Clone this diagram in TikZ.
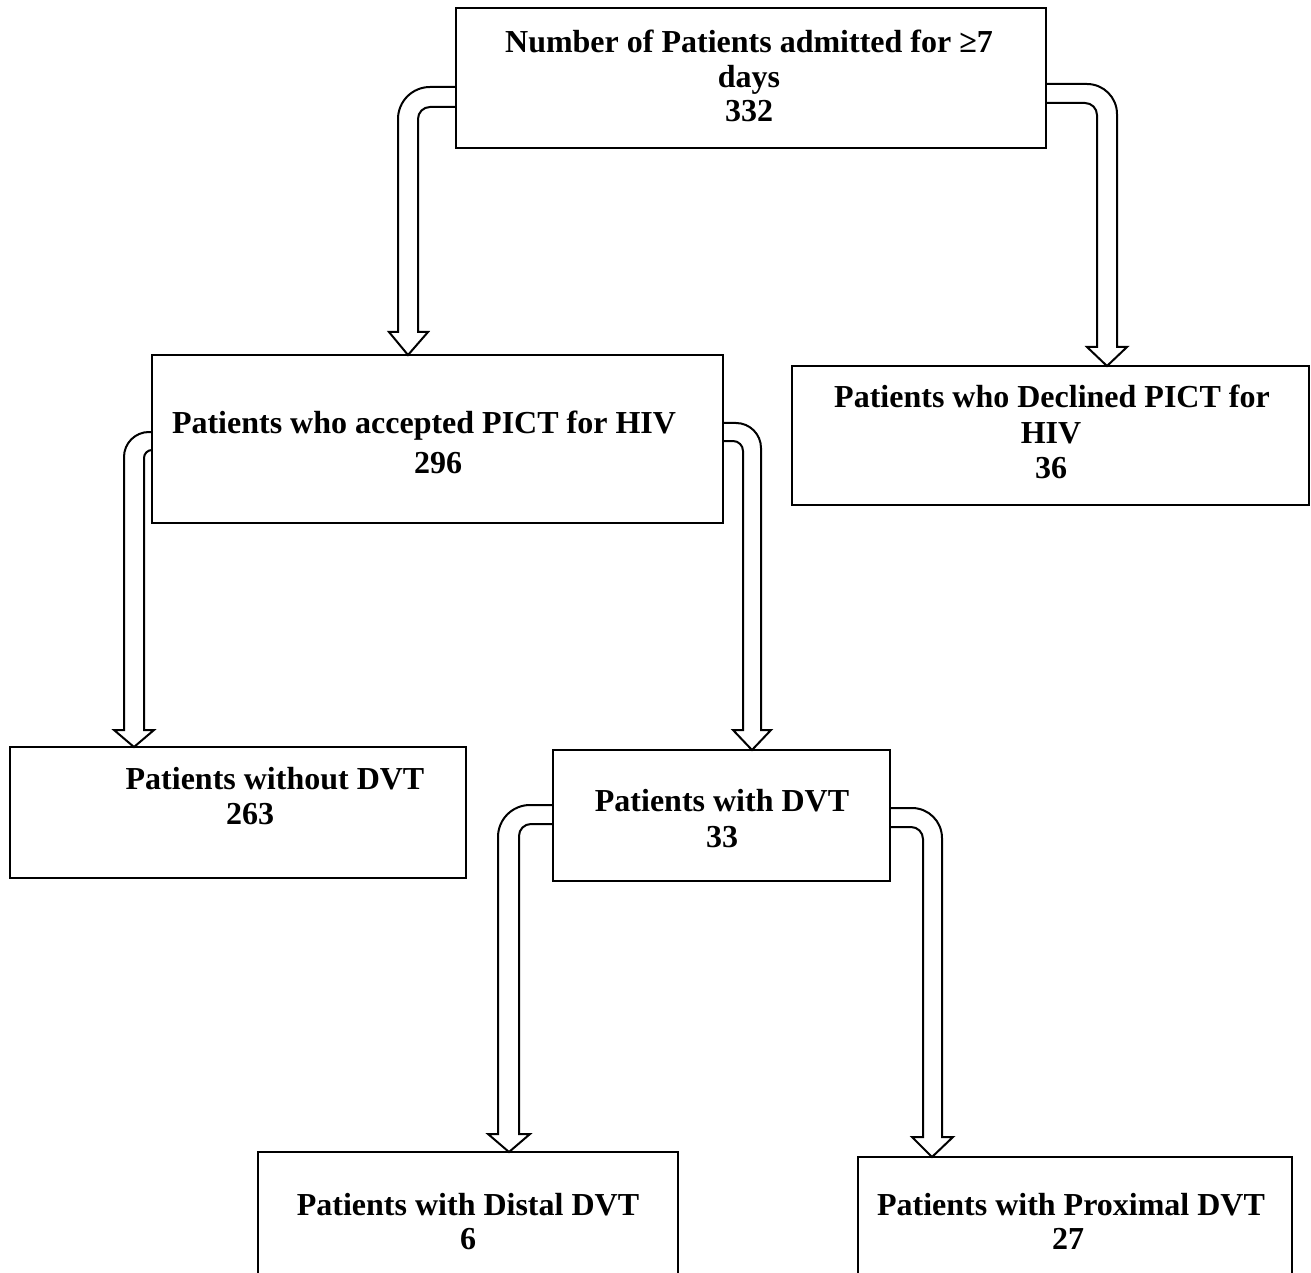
\documentclass[tikz,border=0pt]{standalone}
\usepackage{fontspec}
\setmainfont{Liberation Serif}
\usetikzlibrary{fit}
\begin{document}
\begin{tikzpicture}[x=0.75pt,y=0.75pt,
  box/.style={draw=black,line width=1.5pt,inner sep=0pt,outer sep=0pt},
  txt/.style={font=\fontsize{24}{26}\selectfont\bfseries,inner sep=0pt,anchor=base},
  harrow/.style={draw=black,line width=1.5pt,line join=miter}]
\useasboundingbox (0,0) rectangle (1311,-1273);
% boxes
\node[box,fit={(456,-8) (1046,-148)}] (top) {};
\node[box,fit={(152,-355) (723,-523)}] (acc) {};
\node[box,fit={(792,-366) (1309,-505)}] (decl) {};
\node[box,fit={(10,-747) (466,-878)}] (wo) {};
\node[box,fit={(553,-750) (890,-881)}] (wdvt) {};
\node[box,fit={(258,-1152) (678,-1300)}] (dist) {};
\node[box,fit={(858,-1157) (1292,-1300)}] (prox) {};
% texts
\node[txt] (t1) at (749,-53) {Number of Patients admitted for ≥7};
\node[txt] (t2) at (749,-88) {days};
\node[txt] (t3) at (749,-122) {332};
\node[txt] (a1) at (424,-433) {Patients who accepted PICT for HIV};
\node[txt] (a2) at (438,-474) {296};
\node[txt] (d1) at (1052,-407) {Patients who Declined PICT for};
\node[txt] (d2) at (1051,-443) {HIV};
\node[txt] (d3) at (1051,-479) {36};
\node[txt] (w1) at (275,-789) {Patients without DVT};
\node[txt] (w2) at (250,-824) {263};
\node[txt] (v1) at (722,-811) {Patients with DVT};
\node[txt] (v2) at (722,-847) {33};
\node[txt] (s1) at (468,-1215) {Patients with Distal DVT};
\node[txt] (s2) at (468,-1249) {6};
\node[txt] (p1) at (1071,-1215) {Patients with Proximal DVT};
\node[txt] (p2) at (1068,-1249) {27};
% arrows
% top -> accepted (left)
\draw[harrow] (top.west |- 0,-87) -- (430,-87) arc[start angle=90,end angle=180,radius=24pt]
  -- (398,-332) -- (389,-332) -- (acc.north -| 408,0) -- (428,-332) -- (418,-332)
  -- (418,-119) arc[start angle=180,end angle=90,radius=9pt] -- (top.west |- 0,-107);
% top -> declined (right)
\draw[harrow] (top.east |- 0,-84) -- (1087,-84) arc[start angle=90,end angle=0,radius=22.5pt]
  -- (1117,-347) -- (1127,-347) -- (decl.north -| 1107,0) -- (1087,-347) -- (1097,-347)
  -- (1097,-115) arc[start angle=0,end angle=90,radius=9pt] -- (top.east |- 0,-103);
% accepted -> without (left)
\draw[harrow] (acc.west |- 0,-432) -- (149,-432) arc[start angle=90,end angle=180,radius=18.75pt]
  -- (124,-730) -- (114,-730) -- (wo.north -| 134,0) -- (154,-730) -- (144,-730)
  -- (144,-458) arc[start angle=180,end angle=90,radius=6pt] -- (acc.west |- 0,-450);
% accepted -> with DVT (right)
\draw[harrow] (acc.east |- 0,-423) -- (736,-423) arc[start angle=90,end angle=0,radius=18.75pt]
  -- (761,-730) -- (771,-730) -- (wdvt.north -| 752,0) -- (733,-730) -- (743,-730)
  -- (743,-451) arc[start angle=0,end angle=90,radius=7.5pt] -- (acc.east |- 0,-441);
% with DVT -> distal (left)
\draw[harrow] (wdvt.west |- 0,-805) -- (530,-805) arc[start angle=90,end angle=180,radius=24pt]
  -- (498,-1134) -- (488,-1134) -- (dist.north -| 509,0) -- (530,-1134) -- (519,-1134)
  -- (519,-836) arc[start angle=180,end angle=90,radius=9pt] -- (wdvt.west |- 0,-824);
% with DVT -> proximal (right)
\draw[harrow] (wdvt.east |- 0,-808) -- (912,-808) arc[start angle=90,end angle=0,radius=22.5pt]
  -- (942,-1137) -- (953,-1137) -- (prox.north -| 932,0) -- (912,-1137) -- (923,-1137)
  -- (923,-839) arc[start angle=0,end angle=90,radius=9pt] -- (wdvt.east |- 0,-827);
\end{tikzpicture}
\end{document}
